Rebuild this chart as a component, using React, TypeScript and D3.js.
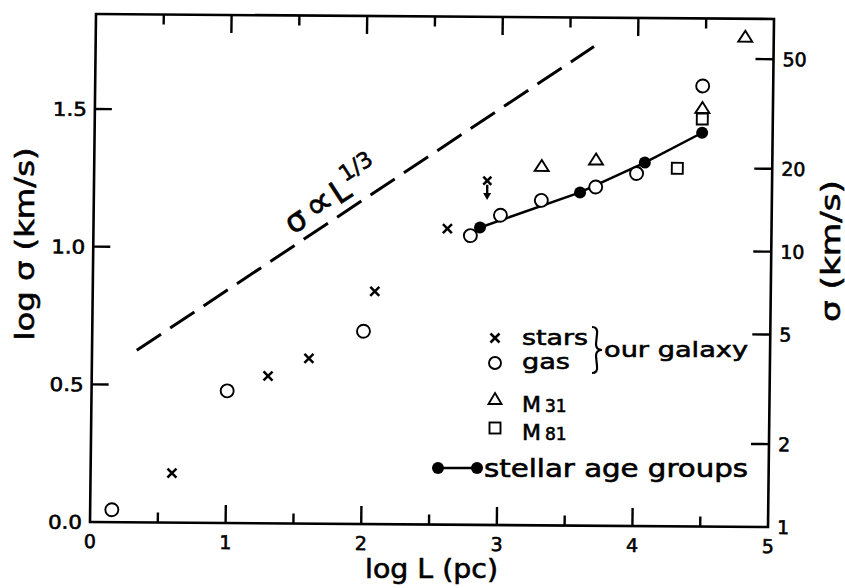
import React, { useRef, useEffect } from 'react';
import * as d3 from 'd3';

// tick values
const X_TICKS = [0, 1, 2, 3, 4, 5];
const LEFT_TICKS = [0, 0.5, 1.0, 1.5];
const LEFT_LABELS = ['0.0', '0.5', '1.0', '1.5'];
const RIGHT_TICKS = [1, 2, 5, 10, 20, 50];

// our galaxy: stars (x) and gas (o), log L vs log sigma
const STARS_L = [0.60, 1.30, 1.60, 2.08, 2.61];
const STARS_S = [0.18, 0.535, 0.60, 0.845, 1.075];
const LIMIT_L = [2.90];
const LIMIT_S = [1.25];
const LIMIT_TO = [1.18];
const GAS_L = [0.16, 1.0, 2.0, 2.78, 3.0, 3.30, 3.70, 4.0, 4.48];
const GAS_S = [0.045, 0.48, 0.70, 1.05, 1.125, 1.18, 1.23, 1.28, 1.60];
// other galaxies
const M31_L = [3.30, 3.70, 4.48, 4.79];
const M31_S = [1.305, 1.33, 1.52, 1.78];
const M81_L = [4.30, 4.48];
const M81_S = [1.30, 1.48];
// stellar age groups
const AGE_L = [2.85, 3.585, 4.06, 4.48];
const AGE_S = [1.08, 1.21, 1.32, 1.43];
// sigma ~ L^(1/3) guide line
const GUIDE_L = [0.33, 3.675];
const GUIDE_S = [0.625, 1.74];

const W = 845, H = 588;
const PW = 678, PH = 508;
const FONT = 'DejaVu Sans, sans-serif';

export default function App() {
  const svgRef = useRef(null);

  useEffect(() => {
    if (!svgRef.current) return;
    const svg = d3.select(svgRef.current);
    svg.selectAll('*').remove();
    svg.append('rect').attr('width', W).attr('height', H).attr('fill', '#fff');
    // the scanned frame is a little skewed
    const g = svg.append('g').attr('transform', 'matrix(1,0.00737,-0.0118,1,96,14)');
    const x = d3.scaleLinear().domain([0, 5]).range([0, PW]);
    const y = d3.scaleLinear().domain([0, 1.845]).range([PH, 0]);
    const txt = (sel) => sel.append('text').attr('font-family', FONT).attr('stroke', '#000').attr('stroke-width', 0.6);

    g.append('rect').attr('width', PW).attr('height', PH).attr('fill', 'none').attr('stroke', '#000').attr('stroke-width', 2.6);

    d3.range(0.5, 5, 0.5).forEach((t) => {
      const len = Number.isInteger(t) ? 18 : 10;
      g.append('line').attr('x1', x(t)).attr('x2', x(t)).attr('y1', PH).attr('y2', PH - len).attr('stroke', '#000').attr('stroke-width', 2.4);
      g.append('line').attr('x1', x(t)).attr('x2', x(t)).attr('y1', 0).attr('y2', len).attr('stroke', '#000').attr('stroke-width', 2.4);
    });
    X_TICKS.forEach((t) => {
      txt(g).attr('x', x(t)).attr('y', PH + 26).attr('text-anchor', 'middle').attr('font-size', 19).text(t);
    });
    LEFT_TICKS.forEach((t, i) => {
      if (t > 0) g.append('line').attr('x1', 0).attr('x2', 17).attr('y1', y(t)).attr('y2', y(t)).attr('stroke', '#000').attr('stroke-width', 2.4);
      txt(g).attr('x', -8).attr('y', y(t) + 7).attr('text-anchor', 'end').attr('font-size', 19)
        .attr('textLength', 34).attr('lengthAdjust', 'spacingAndGlyphs').text(LEFT_LABELS[i]);
    });
    RIGHT_TICKS.forEach((v) => {
      const yy = y(Math.log10(v));
      if (v > 1) g.append('line').attr('x1', PW).attr('x2', PW - 18).attr('y1', yy).attr('y2', yy).attr('stroke', '#000').attr('stroke-width', 2.4);
      txt(g).attr('x', PW + 9).attr('y', yy + 7).attr('font-size', 19).text(v);
    });

    // guide line
    g.append('line').attr('x1', x(GUIDE_L[0])).attr('y1', y(GUIDE_S[0])).attr('x2', x(GUIDE_L[1])).attr('y2', y(GUIDE_S[1]))
      .attr('stroke', '#000').attr('stroke-width', 3).attr('stroke-dasharray', '29,11');

    // stellar age groups
    const line = d3.line().x(d => x(d[0])).y(d => y(d[1]));
    const ageData = AGE_L.map((l, i) => [l, AGE_S[i]]);
    g.append('path').attr('d', line(ageData)).attr('fill', 'none').attr('stroke', '#000').attr('stroke-width', 2.5);
    ageData.forEach(d => g.append('circle').attr('cx', x(d[0])).attr('cy', y(d[1])).attr('r', 6).attr('fill', '#000'));

    const drawX = (cx, cy, s = 4.5) => {
      g.append('path').attr('d', `M${cx - s},${cy - s}L${cx + s},${cy + s}M${cx + s},${cy - s}L${cx - s},${cy + s}`).attr('stroke', '#000').attr('stroke-width', 2.5).attr('fill', 'none');
    };
    STARS_L.forEach((l, i) => drawX(x(l), y(STARS_S[i])));
    LIMIT_L.forEach((l, i) => {
      const cx = x(l), top = y(LIMIT_S[i]), tip = y(LIMIT_TO[i]);
      drawX(cx, top, 4);
      g.append('line').attr('x1', cx).attr('x2', cx).attr('y1', top + 4).attr('y2', tip - 5).attr('stroke', '#000').attr('stroke-width', 2.4);
      g.append('path').attr('d', `M${cx - 4},${tip - 7}L${cx + 4},${tip - 7}L${cx},${tip}Z`).attr('fill', '#000');
    });
    GAS_L.forEach((l, i) => g.append('circle').attr('cx', x(l)).attr('cy', y(GAS_S[i])).attr('r', 6.5).attr('fill', '#fff').attr('stroke', '#000').attr('stroke-width', 1.9));
    M31_L.forEach((l, i) => {
      const cx = x(l), cy = y(M31_S[i]);
      g.append('path').attr('d', `M${cx},${cy - 6}L${cx + 7},${cy + 5}L${cx - 7},${cy + 5}Z`).attr('fill', '#fff').attr('stroke', '#000').attr('stroke-width', 1.9);
    });
    M81_L.forEach((l, i) => {
      const cx = x(l), cy = y(M81_S[i]);
      g.append('rect').attr('x', cx - 5.5).attr('y', cy - 5.5).attr('width', 11).attr('height', 11).attr('fill', '#fff').attr('stroke', '#000').attr('stroke-width', 1.9);
    });

    // page-coordinate texts
    const p = svg.append('g').attr('fill', '#000');
    txt(p).attr('transform', 'translate(34,244) rotate(-90)').attr('text-anchor', 'middle').attr('font-size', 26)
      .attr('textLength', 193).attr('lengthAdjust', 'spacingAndGlyphs').text('log σ (km/s)');
    txt(p).attr('x', 431.5).attr('y', 578).attr('text-anchor', 'middle').attr('font-size', 26)
      .attr('textLength', 133).attr('lengthAdjust', 'spacingAndGlyphs').text('log L (pc)');
    txt(p).attr('transform', 'translate(840,251) rotate(-90)').attr('text-anchor', 'middle').attr('font-size', 26)
      .attr('textLength', 142).attr('lengthAdjust', 'spacingAndGlyphs').text('σ (km/s)');
    const lab = txt(p).attr('transform', 'translate(293,235) rotate(-33)').attr('font-size', 32);
    lab.append('tspan').text('σ');
    lab.append('tspan').attr('dx', 5).attr('font-size', 38).text('∝');
    lab.append('tspan').attr('dx', 2).text('L');
    lab.append('tspan').attr('dx', 0).attr('dy', -16).attr('font-size', 22).text('1/3');

    // legend
    const lx = 495;
    p.append('path').attr('d', `M${lx - 4.5},${333.5}L${lx + 4.5},${342.5}M${lx + 4.5},${333.5}L${lx - 4.5},${342.5}`).attr('stroke', '#000').attr('stroke-width', 2.5);
    txt(p).attr('x', 522).attr('y', 345).attr('font-size', 22).attr('textLength', 66).attr('lengthAdjust', 'spacingAndGlyphs').text('stars');
    p.append('circle').attr('cx', lx).attr('cy', 363).attr('r', 6).attr('fill', '#fff').attr('stroke', '#000').attr('stroke-width', 1.9);
    txt(p).attr('x', 522).attr('y', 369).attr('font-size', 22).attr('textLength', 48).attr('lengthAdjust', 'spacingAndGlyphs').text('gas');
    p.append('path').attr('d', 'M592,327Q598,327 597,334L596,344Q596,350 602,350Q596,350 596,356L597,366Q598,373 592,373')
      .attr('fill', 'none').attr('stroke', '#000').attr('stroke-width', 2.2);
    txt(p).attr('x', 604).attr('y', 357).attr('font-size', 22).attr('textLength', 144).attr('lengthAdjust', 'spacingAndGlyphs').text('our galaxy');
    p.append('path').attr('d', `M${lx},${393}L${lx + 6.5},${404}L${lx - 6.5},${404}Z`).attr('fill', '#fff').attr('stroke', '#000').attr('stroke-width', 1.9);
    const m31 = txt(p).attr('x', 522).attr('y', 412).attr('font-size', 22);
    m31.append('tspan').text('M');
    m31.append('tspan').attr('dx', 4).attr('font-size', 17).text('31');
    p.append('rect').attr('x', lx - 5.5).attr('y', 422.5).attr('width', 11).attr('height', 11).attr('fill', '#fff').attr('stroke', '#000').attr('stroke-width', 1.9);
    const m81 = txt(p).attr('x', 522).attr('y', 440).attr('font-size', 22);
    m81.append('tspan').text('M');
    m81.append('tspan').attr('dx', 4).attr('font-size', 17).text('81');
    p.append('line').attr('x1', 438).attr('x2', 477).attr('y1', 468).attr('y2', 468).attr('stroke', '#000').attr('stroke-width', 2.5);
    p.append('circle').attr('cx', 438).attr('cy', 468).attr('r', 6).attr('fill', '#000');
    p.append('circle').attr('cx', 477).attr('cy', 468).attr('r', 6).attr('fill', '#000');
    txt(p).attr('x', 484).attr('y', 477).attr('font-size', 24).attr('textLength', 264).attr('lengthAdjust', 'spacingAndGlyphs').text('stellar age groups');
  }, []);

  return <svg ref={svgRef} width={W} height={H} style={{ position: 'absolute', left: 0, top: 0, display: 'block' }} />;
}
